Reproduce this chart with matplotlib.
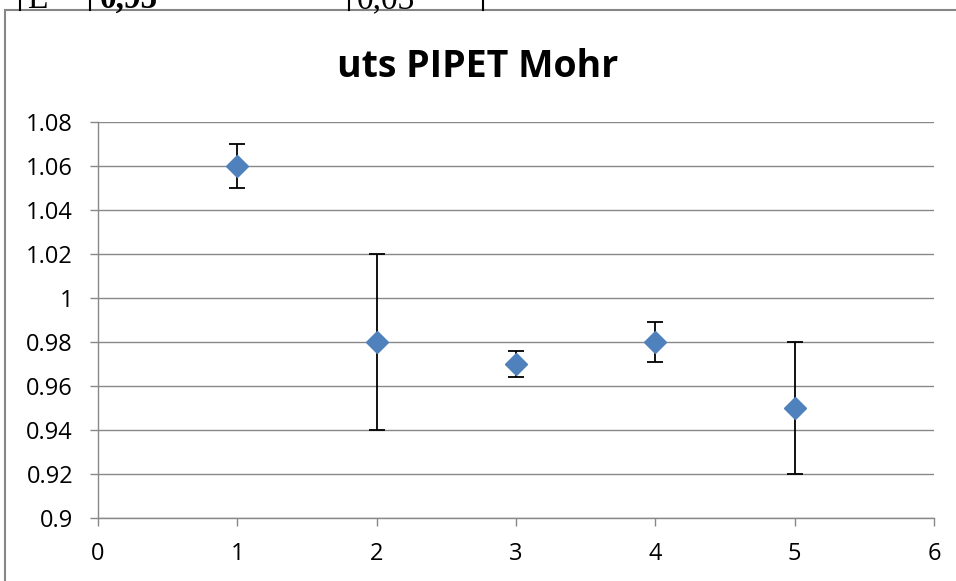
import matplotlib.pyplot as plt
from matplotlib.patches import Rectangle
from matplotlib.lines import Line2D

x = [1, 2, 3, 4, 5]
y = [1.06, 0.98, 0.97, 0.98, 0.95]
err = [0.01, 0.04, 0.006, 0.009, 0.03]
yticks = [0.9, 0.92, 0.94, 0.96, 0.98, 1, 1.02, 1.04, 1.06, 1.08]
ylabels = ["0.9", "0.92", "0.94", "0.96", "0.98", "1", "1.02", "1.04", "1.06", "1.08"]

plt.rcParams['font.family'] = ['Open Sans', 'DejaVu Sans']

fig = plt.figure(figsize=(9.56, 5.81), dpi=100)
W, H = 956, 581

# table fragment at the top of the page (only its bottom edge is visible)
for xp in [20, 90, 349, 483]:
    fig.add_artist(Line2D([xp / W, xp / W], [1, 1 - 10 / H], color='black', lw=1.5))
for xp, s, wt in [(27, "E", 'normal'), (100, "0,95", 'bold'), (357, "0,03", 'normal')]:
    fig.text(xp / W, 1 - 8 / H, s, fontsize=24, family='Liberation Serif',
             fontweight=wt, va='baseline')

# chart frame
fig.add_artist(Rectangle((5 / W, -0.01), 1, 1 - 10 / H + 0.01, transform=fig.transFigure,
                         facecolor='white', edgecolor='#868686', lw=1.5, zorder=1))

ax = fig.add_axes([98 / W, 1 - 518 / H, (934 - 98) / W, (518 - 122) / H])
ax.set_zorder(2)
ax.errorbar(x, y, yerr=err, fmt='D', color='#4F81BD', ms=11, ecolor='black',
            elinewidth=1.3, capsize=6, capthick=1.3, zorder=3)
ax.set_xlim(0, 6)
ax.set_ylim(0.9, 1.08)
ax.set_xticks(range(0, 7))
ax.set_yticks(yticks)
ax.set_yticklabels(ylabels)
ax.grid(axis='y', color='#888888', lw=1)
ax.set_axisbelow(True)
for side in ['top', 'right']:
    ax.spines[side].set_visible(False)
for side in ['left', 'bottom']:
    ax.spines[side].set_color('#888888')
    ax.spines[side].set_linewidth(1)
ax.tick_params(axis='both', color='#888888', length=6, width=1, labelsize=17, direction='out')
ax.tick_params(axis='x', pad=11)
ax.tick_params(axis='y', pad=12)

fig.text(478 / W, 1 - 77 / H, "uts PIPET Mohr", fontsize=27, fontweight='bold',
         ha='center', va='baseline')

fig.savefig("out.png", dpi=100)
